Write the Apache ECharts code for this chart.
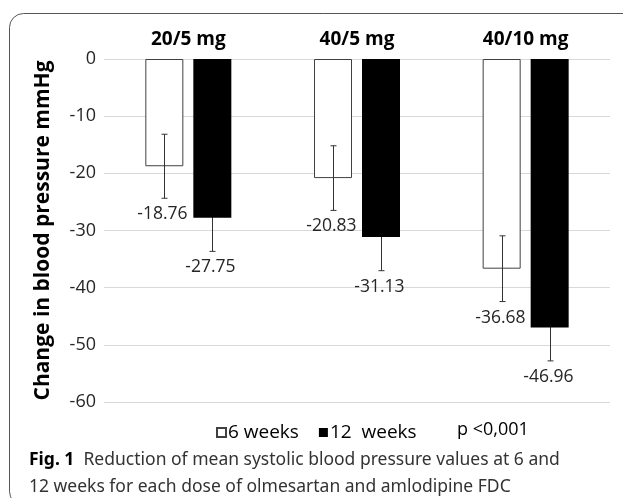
<!DOCTYPE html>
<html>
<head>
<meta charset="utf-8">
<script src="https://cdn.jsdelivr.net/npm/echarts@6/dist/echarts.min.js"></script>
<style>
html,body{margin:0;padding:0;background:#fff;}
#chart{width:623px;height:498px;}
</style>
</head>
<body>
<div id="chart"></div>
<script>
var categories = ['20/5 mg', '40/5 mg', '40/10 mg'];
var seriesNames = ['6 weeks', '12  weeks'];
var weeks6 = [-18.76, -20.83, -36.68];
var weeks12 = [-27.75, -31.13, -46.96];
var sd6 = [5.6, 5.65, 5.75];
var sd12 = [5.9, 5.9, 5.85];
var yTicks = [0, -10, -20, -30, -40, -50, -60];
var pText = 'p <0,001';
var captionBold = 'Fig. 1';
var captionLine1 = 'Reduction of mean systolic blood pressure values at 6 and';
var captionLine2 = '12 weeks for each dose of olmesartan and amlodipine FDC';

var BAR_W = 38, BAR_GAP = 10;
var FONT = '"Open Sans", "Liberation Sans", sans-serif';

function errorSeries(name, means, sds, offset, z) {
  return {
    type: 'custom',
    name: name + ' err',
    z: z,
    silent: true,
    data: means.map(function (m, i) { return [i, m, sds[i]]; }),
    renderItem: function (params, api) {
      var mean = api.value(1), sd = api.value(2);
      var top = api.coord([api.value(0), mean + sd]);
      var bot = api.coord([api.value(0), mean - sd]);
      var x = Math.round(top[0] + offset) + 0.5;
      var cap = 3;
      var label = mean.toFixed(2);
      return {
        type: 'group',
        children: [
          { type: 'line', shape: { x1: x, y1: top[1], x2: x, y2: bot[1] }, style: { stroke: '#333', lineWidth: 1 } },
          { type: 'line', shape: { x1: x - cap, y1: top[1], x2: x + cap, y2: top[1] }, style: { stroke: '#333', lineWidth: 1 } },
          { type: 'line', shape: { x1: x - cap, y1: bot[1], x2: x + cap, y2: bot[1] }, style: { stroke: '#333', lineWidth: 1 } },
          { type: 'text', x: x - 2, y: bot[1] + 16, style: { text: label, fill: '#262626', font: '17.5px ' + FONT, align: 'center', verticalAlign: 'middle' } }
        ]
      };
    }
  };
}

var chart = echarts.init(document.getElementById('chart'), null, { renderer: 'canvas' });
chart.setOption({
  animation: false,
  backgroundColor: '#fff',
  grid: { left: 104, right: 13, top: 59, bottom: 96, containLabel: false },
  xAxis: {
    type: 'category',
    data: categories,
    position: 'top',
    axisLine: { show: false },
    axisTick: { show: false },
    axisLabel: { color: '#000', fontFamily: FONT, fontWeight: 'bold', fontSize: 19, margin: 10 }
  },
  yAxis: {
    type: 'value',
    min: yTicks[yTicks.length - 1],
    max: yTicks[0],
    interval: 10,
    name: 'Change in blood pressure mmHg',
    nameLocation: 'middle',
    nameRotate: 90,
    nameGap: 50,
    nameTextStyle: { color: '#000', fontFamily: FONT, fontWeight: 'bold', fontSize: 21 },
    axisLine: { show: false },
    axisTick: { show: false },
    axisLabel: { color: '#262626', fontFamily: FONT, fontSize: 18, margin: 8 },
    splitLine: { lineStyle: { color: '#d9d9d9', width: 1 } }
  },
  legend: {
    data: seriesNames,
    left: 211,
    top: 418,
    itemWidth: 9,
    itemHeight: 9,
    itemGap: 20,
    icon: 'rect',
    textStyle: { color: '#000', fontFamily: FONT, fontSize: 19, padding: [0, 0, 0, -3] }
  },
  series: [
    {
      type: 'bar', name: seriesNames[0], data: weeks6,
      barWidth: BAR_W, barGap: (BAR_GAP / BAR_W * 100) + '%',
      itemStyle: { color: '#fff', borderColor: '#404040', borderWidth: 1 }
    },
    {
      type: 'bar', name: seriesNames[1], data: weeks12,
      barWidth: BAR_W, z: 3,
      itemStyle: { color: '#000' }
    },
    errorSeries(seriesNames[0], weeks6, sd6, -(BAR_W + BAR_GAP) / 2, 5),
    errorSeries(seriesNames[1], weeks12, sd12, (BAR_W + BAR_GAP) / 2, 1)
  ],
  graphic: [
    { type: 'rect', shape: { x: 9.5, y: 13.5, width: 700, height: 492, r: 14 }, style: { fill: 'none', stroke: '#555', lineWidth: 1 }, silent: true },
    { type: 'text', left: 457, top: 421, style: { text: pText, fill: '#000', font: '18px ' + FONT } },
    { type: 'text', left: 29, top: 447, style: {
        text: '{b|' + captionBold + '}  ' + captionLine1 + '\n' + captionLine2,
        fill: '#333', fontSize: 17.5, fontFamily: '"Noto Sans", sans-serif', lineHeight: 27,
        rich: { b: { fontWeight: 'bold', fill: '#000', fontSize: 17.5, fontFamily: '"Noto Sans", sans-serif' } }
    } }
  ]
});
</script>
</body>
</html>
